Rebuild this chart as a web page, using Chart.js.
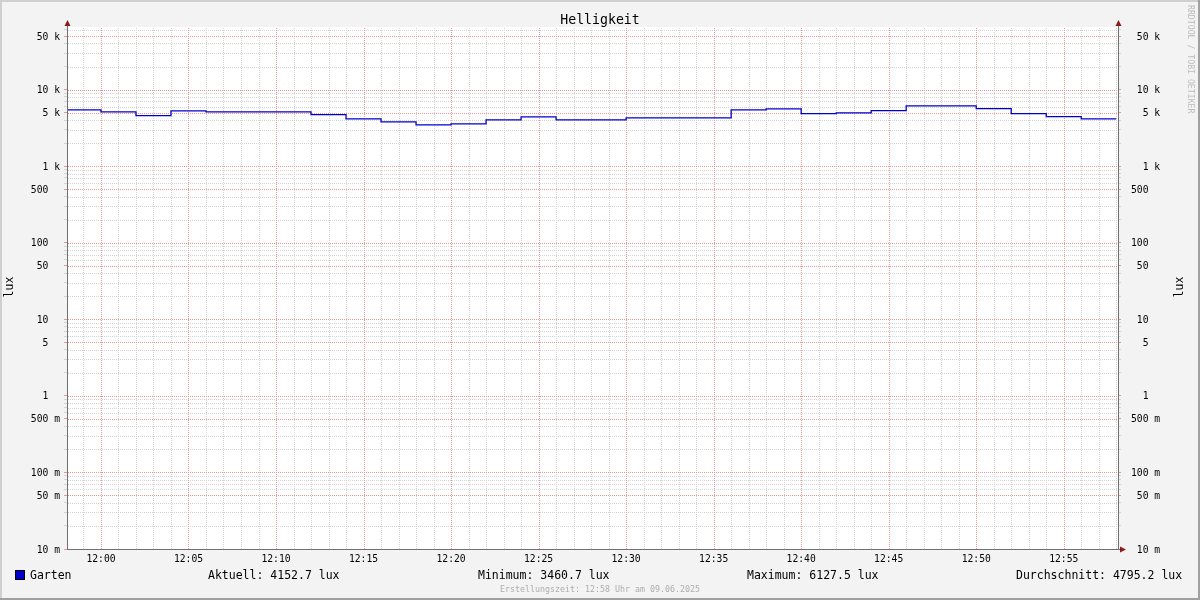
<!DOCTYPE html>
<html>
<head>
<meta charset="utf-8">
<script src="https://cdn.jsdelivr.net/npm/chart.js@4.4.1/dist/chart.umd.min.js"></script>
<style>
  html, body { margin: 0; padding: 0; background: #f3f3f3; }
  #wrap { width: 1200px; height: 600px; }
</style>
</head>
<body>
<div id="wrap"><canvas id="helligkeit_cv" width="1200" height="600"></canvas></div>
<script>
'use strict'
// Zeitpunkte (Beginn jedes 2-Minuten-Intervalls) und Messwerte in lux
const stepTimes = ['11:58', '12:00', '12:02', '12:04', '12:06', '12:08', '12:10', '12:12', '12:14', '12:16',
    '12:18', '12:20', '12:22', '12:24', '12:26', '12:28', '12:30', '12:32', '12:34', '12:36',
    '12:38', '12:40', '12:42', '12:44', '12:46', '12:48', '12:50', '12:52', '12:54', '12:56'];
const endTime = '12:58';
const garten = [5433, 5117, 4578, 5272, 5117, 5117, 5117, 4718, 4146, 3787,
    3460.7, 3566, 4021, 4402, 4021, 4021, 4272, 4272, 4272, 5433,
    5598, 4861, 4963, 5318, 6127.5, 6127.5, 5649, 4861, 4441, 4152.7];

// Y-Achse: Gitterwerte und Beschriftungen
const yTickValues = [];
const yTickLabels = [];
const decades = [-2, -1, 0, 1, 2, 3, 4];
decades.forEach(function (k) {
    for (let m = 1; m <= 9; m++) {
        const v = m * Math.pow(10, k);
        if (v > 65600) continue;
        yTickValues.push(v);
        let lbl = '';
        if (m === 1 || m === 5) {
            if (k >= 3) lbl = (m * Math.pow(10, k - 3)) + ' k';
            else if (k >= 0) lbl = (m * Math.pow(10, k)) + '  ';
            else lbl = (m * Math.pow(10, k + 3)) + ' m';
            lbl = lbl.padStart(5, ' ');
        }
        yTickLabels.push(lbl);
    }
});
const xTickMinutes = [];
for (let i = -1; i <= 58; i++) xTickMinutes.push(i);

const legendStats = ['Aktuell: 4152.7 lux', 'Minimum: 3460.7 lux', 'Maximum: 6127.5 lux', 'Durchschnitt: 4795.2 lux'];

function toMinutes(t) {
    let p = t.split(':');
    return (parseInt(p[0], 10) - 12) * 60 + parseInt(p[1], 10);
}

let points = stepTimes.map(function (t, i) {
    return { x: toMinutes(t), y: garten[i] };
});
points.push({ x: toMinutes(endTime), y: garten[garten.length - 1] });

const MONO = '"DejaVu Sans Mono", "Liberation Mono", monospace';
const gridGrey = 'rgb(212,212,212)';
const gridRed = 'rgb(234,150,150)';

let rrdPlugin = {
    id: 'rrd',
    beforeDraw: function (chart) {
        let ctx = chart.ctx;
        let a = chart.chartArea;
        ctx.save();
        ctx.fillStyle = '#f3f3f3';
        ctx.fillRect(0, 0, 1200, 600);
        // Rahmen
        ctx.fillStyle = '#cfcfcf';
        ctx.fillRect(0, 0, 1200, 2);
        ctx.fillRect(0, 0, 2, 600);
        ctx.fillStyle = '#a0a0a0';
        ctx.fillRect(0, 598, 1200, 2);
        ctx.fillRect(1198, 0, 2, 600);
        // Zeichenfläche
        ctx.fillStyle = '#ffffff';
        ctx.fillRect(a.left, a.top, a.right - a.left, a.bottom - a.top);
        ctx.restore();
    },
    beforeDatasetsDraw: function (chart) {
        // gepunktetes Gitter, Punkte pixelgenau
        let ctx = chart.ctx;
        let a = chart.chartArea;
        let xs = chart.scales.x;
        let ys = chart.scales.y;
        ctx.save();
        // zuerst das feine Gitter, dann das Hauptgitter darüber
        [false, true].forEach(function (major) {
            ctx.fillStyle = major ? gridRed : gridGrey;
            yTickValues.forEach(function (v, i) {
                if ((yTickLabels[i] !== '') !== major) return;
                let py = Math.round(ys.getPixelForValue(v));
                if (py < a.top || py > a.bottom) return;
                for (let x = Math.ceil(a.left) + 1; x < a.right; x += 2) ctx.fillRect(x, py, 1, 1);
            });
            xTickMinutes.forEach(function (m) {
                if ((Math.abs(m) % 5 === 0) !== major) return;
                let px = Math.round(xs.getPixelForValue(m));
                for (let y = Math.ceil(a.top) + 1; y < a.bottom; y += 2) ctx.fillRect(px, y, 1, 1);
            });
        });
        ctx.restore();
    },
    afterDraw: function (chart) {
        let ctx = chart.ctx;
        let a = chart.chartArea;
        ctx.save();
        // Achsen
        ctx.strokeStyle = '#707070';
        ctx.lineWidth = 1;
        ctx.beginPath();
        ctx.moveTo(a.left + 0.5, a.bottom);
        ctx.lineTo(a.left + 0.5, 22);
        ctx.moveTo(a.right + 0.5, a.bottom);
        ctx.lineTo(a.right + 0.5, 22);
        ctx.moveTo(a.left, a.bottom + 0.5);
        ctx.lineTo(a.right + 3, a.bottom + 0.5);
        ctx.stroke();
        // Pfeile
        ctx.fillStyle = '#8b1a1a';
        [a.left + 0.5, a.right + 0.5].forEach(function (x) {
            ctx.beginPath();
            ctx.moveTo(x - 3, 26);
            ctx.lineTo(x + 3, 26);
            ctx.lineTo(x, 20);
            ctx.closePath();
            ctx.fill();
        });
        ctx.beginPath();
        ctx.moveTo(a.right + 2, a.bottom + 0.5 - 3);
        ctx.lineTo(a.right + 2, a.bottom + 0.5 + 3);
        ctx.lineTo(a.right + 8, a.bottom + 0.5);
        ctx.closePath();
        ctx.fill();

        // Titel
        ctx.fillStyle = '#000';
        ctx.font = '13.2px ' + MONO;
        ctx.textAlign = 'center';
        ctx.textBaseline = 'middle';
        ctx.fillText('Helligkeit', 600, 20.5);

        // Achsentitel
        ctx.font = '11.5px ' + MONO;
        [10, 1180].forEach(function (x) {
            ctx.save();
            ctx.translate(x, 287);
            ctx.rotate(-Math.PI / 2);
            ctx.fillText('lux', 0, 0);
            ctx.restore();
        });

        // Wasserzeichen
        ctx.save();
        ctx.fillStyle = '#bdbdbd';
        ctx.font = '8.2px ' + MONO;
        ctx.translate(1190, 5);
        ctx.rotate(Math.PI / 2);
        ctx.textAlign = 'left';
        ctx.fillText('RRDTOOL / TOBI OETIKER', 0, 0);
        ctx.restore();

        // Legende
        ctx.fillStyle = '#0000cc';
        ctx.fillRect(15, 570, 10, 10);
        ctx.strokeStyle = '#000';
        ctx.strokeRect(15.5, 570.5, 9, 9);
        ctx.fillStyle = '#000';
        ctx.font = '11.5px ' + MONO;
        ctx.textAlign = 'left';
        ctx.fillText('Garten', 30, 576.5);
        let statX = [208, 478, 747, 1016];
        legendStats.forEach(function (s, i) {
            ctx.fillText(s, statX[i], 576.5);
        });

        // Fußzeile
        ctx.fillStyle = '#adadad';
        ctx.font = '8.3px ' + MONO;
        ctx.textAlign = 'center';
        ctx.fillText('Erstellungszeit: 12:58 Uhr am 09.06.2025', 600, 590);
        ctx.restore();
    }
};

function yTickColor(context) {
    if (context.tick === undefined) return gridGrey;
    return yTickLabels[context.index] ? gridRed : gridGrey;
}

let tickFont = { family: MONO, size: 9.7 };

let chart = new Chart('helligkeit_cv', {
    type: 'line',
    data: {
        datasets: [
            {
                label: 'Garten',
                data: points,
                borderColor: '#0000cc',
                borderWidth: 1.3,
                stepped: true,
                pointRadius: 0,
                fill: false,
                yAxisID: 'y',
            },
        ],
    },
    options: {
        responsive: false,
        animation: false,
        devicePixelRatio: 1,
        layout: { padding: { top: 27, left: 0, right: 0, bottom: 0 } },
        plugins: {
            legend: { display: false },
            title: { display: false },
            tooltip: { enabled: false },
        },
        scales: {
            x: {
                type: 'linear',
                min: -1.94,
                max: 58.1,
                afterBuildTicks: function (scale) {
                    scale.ticks = xTickMinutes.map(function (m) { return { value: m }; });
                },
                afterFit: function (scale) { scale.height = 51; },
                ticks: {
                    autoSkip: false,
                    maxRotation: 0,
                    padding: 5,
                    color: '#000',
                    font: tickFont,
                    callback: function (v) {
                        if (v % 5 !== 0 || v < 0) return '';
                        return '12:' + (v < 10 ? '0' : '') + v;
                    },
                },
                grid: { display: false, drawTicks: false },
                border: { display: false },
            },
            y: {
                type: 'logarithmic',
                position: 'left',
                min: 0.01,
                max: 65600,
                afterBuildTicks: function (scale) {
                    scale.ticks = yTickValues.map(function (v) { return { value: v }; });
                },
                afterFit: function (scale) { scale.width = 67; },
                ticks: {
                    autoSkip: false,
                    padding: 4,
                    labelOffset: 1,
                    color: '#000',
                    font: tickFont,
                    callback: function (v, i) { return yTickLabels[i]; },
                },
                grid: {
                    drawOnChartArea: false,
                    tickLength: 3,
                    color: yTickColor,
                },
                border: { display: false },
            },
            y2: {
                type: 'logarithmic',
                position: 'right',
                min: 0.01,
                max: 65600,
                afterBuildTicks: function (scale) {
                    scale.ticks = yTickValues.map(function (v) { return { value: v }; });
                },
                afterFit: function (scale) { scale.width = 82; },
                ticks: {
                    autoSkip: false,
                    padding: 10,
                    labelOffset: 1,
                    crossAlign: 'near',
                    color: '#000',
                    font: tickFont,
                    callback: function (v, i) { return yTickLabels[i]; },
                },
                grid: {
                    drawOnChartArea: false,
                    tickLength: 3,
                    color: yTickColor,
                },
                border: { display: false },
            },
        },
    },
    plugins: [rrdPlugin],
});
</script>
</body>
</html>
